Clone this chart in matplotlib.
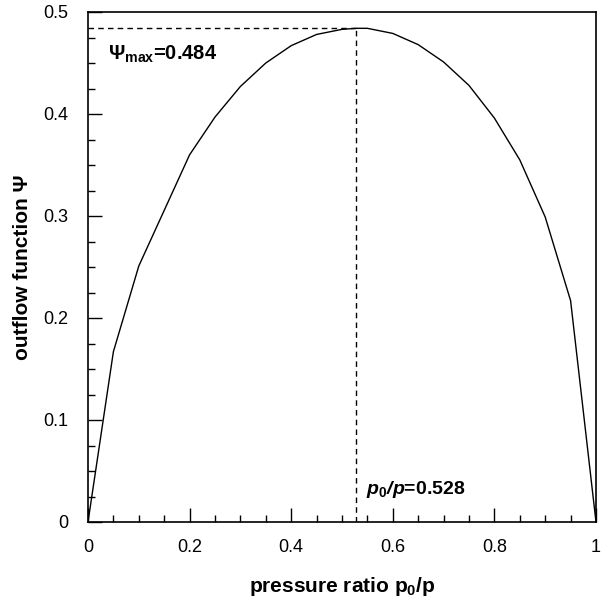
import matplotlib
matplotlib.use("Agg")
import matplotlib.pyplot as plt
from matplotlib.ticker import MultipleLocator, FixedLocator, FixedFormatter

plt.rcParams['font.family'] = ['Liberation Sans', 'DejaVu Sans']
plt.rcParams['mathtext.fontset'] = 'custom'
plt.rcParams['mathtext.rm'] = 'Liberation Sans'
plt.rcParams['mathtext.bf'] = 'Liberation Sans:bold'
plt.rcParams['mathtext.it'] = 'Liberation Sans:italic'
plt.rcParams['mathtext.bfit'] = 'Liberation Sans:bold:italic'

# Data
pressure_ratio = [0.0, 0.05, 0.1, 0.2, 0.25, 0.3, 0.35, 0.4, 0.45, 0.5, 0.528,
                  0.55, 0.6, 0.65, 0.7, 0.75, 0.8, 0.85, 0.9, 0.95, 1.0]
outflow = [0.0, 0.167, 0.251, 0.360, 0.397, 0.427, 0.450, 0.467, 0.478, 0.483, 0.484,
           0.484, 0.479, 0.468, 0.451, 0.428, 0.396, 0.355, 0.299, 0.217, 0.0]
psi_max = 0.484
ratio_crit = 0.528
x_ticks = [0, 0.2, 0.4, 0.6, 0.8, 1.0]
x_tick_labels = ["0", "0.2", "0.4", "0.6", "0.8", "1"]
y_ticks = [0, 0.1, 0.2, 0.3, 0.4, 0.5]
y_tick_labels = ["0", "0.1", "0.2", "0.3", "0.4", "0.5"]

fig = plt.figure(figsize=(6.01, 6.04), dpi=100)
ax = fig.add_axes([88/601, 1-522/604, (596-88)/601, (522-12)/604])

ax.plot(pressure_ratio, outflow, color='black', lw=1.0)
ax.plot([0, ratio_crit], [psi_max, psi_max], color='black', lw=1.0, ls=(0, (4, 3)))
ax.plot([ratio_crit, ratio_crit], [0, psi_max], color='black', lw=1.0, ls=(0, (4, 3)))

ax.set_xlim(0, 1)
ax.set_ylim(0, 0.5)
ax.xaxis.set_major_locator(FixedLocator(x_ticks))
ax.xaxis.set_major_formatter(FixedFormatter(x_tick_labels))
ax.yaxis.set_major_locator(FixedLocator(y_ticks))
ax.yaxis.set_major_formatter(FixedFormatter(y_tick_labels))
ax.xaxis.set_minor_locator(MultipleLocator(0.05))
ax.yaxis.set_minor_locator(MultipleLocator(0.025))
ax.tick_params(which='both', direction='in', top=False, right=False, width=1.0)
ax.tick_params(which='major', length=10, labelsize=13)
ax.tick_params(axis='x', which='major', pad=12)
ax.tick_params(axis='y', which='major', pad=14)
ax.tick_params(which='minor', length=5)
for s in ax.spines.values():
    s.set_linewidth(1.2)

ax.set_xlabel(r"pressure ratio p$_\mathbf{0}$/p", fontsize=15, fontweight='bold', labelpad=14)
ax.set_ylabel("outflow function Ψ", fontsize=15, fontweight='bold', labelpad=8)

ax.text(0.04, 0.453, r"$\mathbf{\Psi}_{\mathbf{max}}$" + "=0.484", fontsize=14.5, fontweight='bold',
        va='baseline', ha='left')
ax.text(0.547, 0.027, r"$\mathbfit{p}_{\mathbf{0}}\mathbfit{/p}$=0.528", fontsize=14,
        fontweight='bold', va='baseline', ha='left')

fig.savefig("out.png", dpi=100)
